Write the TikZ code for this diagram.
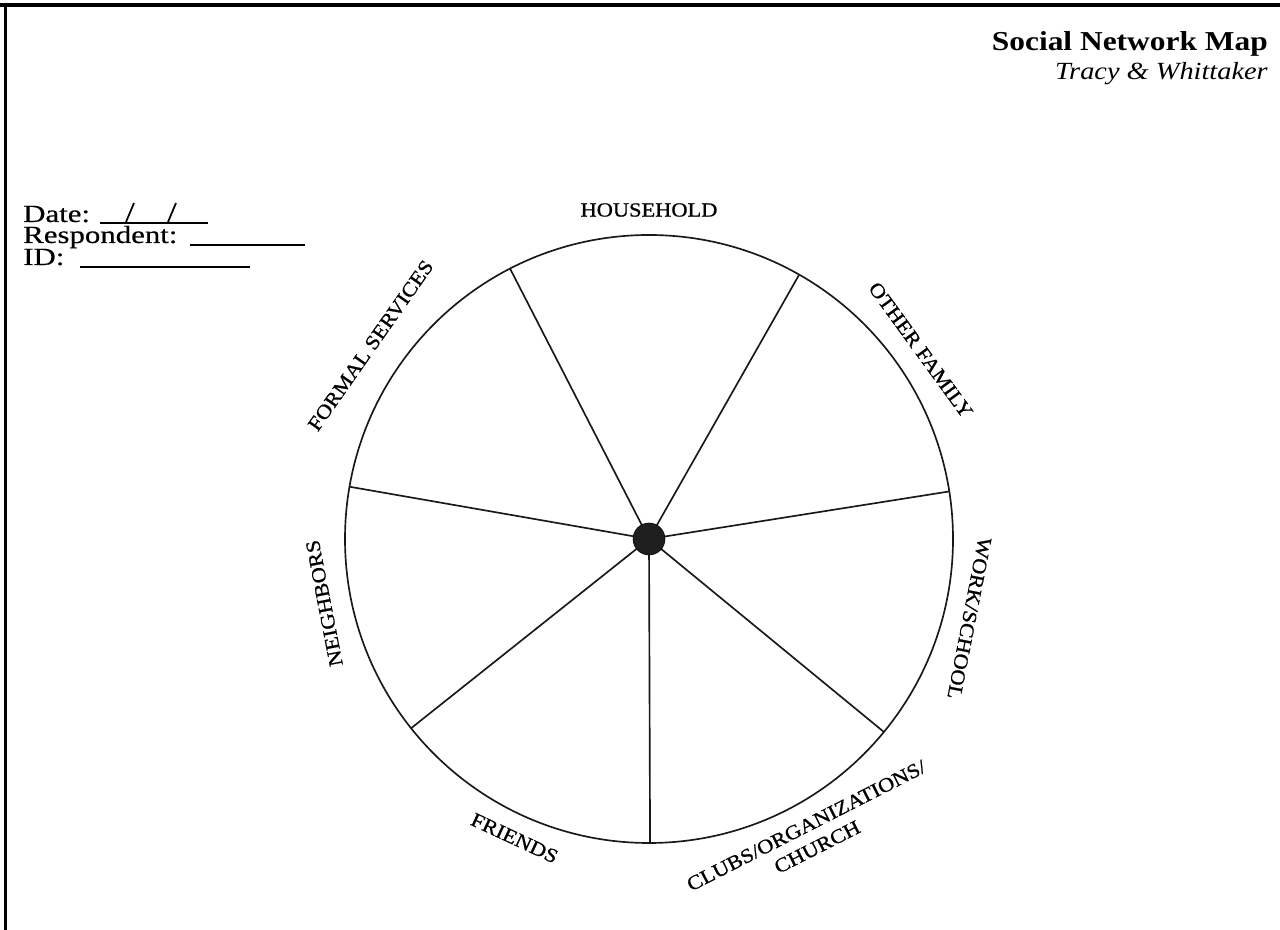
\documentclass[tikz,border=0pt]{standalone}
\usepackage{fontspec}
\setmainfont{Liberation Serif}[FakeStretch=1.15]
\newfontfamily\formfont{Liberation Serif}[FakeStretch=1.25,FakeBold=0.4]
\newfontfamily\labfont{Liberation Serif}[FakeStretch=1.12,FakeBold=0.9]
\begin{document}
\begin{tikzpicture}[x=0.75pt,y=0.75pt,
  frame/.style={line width=2.4pt,black},
  wheel/.style={line width=1.25pt,black!90},
  hubdot/.style={circle,fill=black!88,draw=black,inner sep=0pt,minimum size=24pt},
  lab/.style={font=\labfont\fontsize{15}{18}\selectfont,inner sep=0pt,align=center},
  form/.style={font=\formfont\fontsize{18.5}{20}\selectfont,inner sep=0pt,anchor=base west},
  blank/.style={line width=1.2pt,black}]
\useasboundingbox (0,0) rectangle (1280,930);
\fill[white] (0,0) rectangle (1280,930);
% frame
\draw[frame] (0,925) -- (1280,925);
\draw[frame] (5.5,0) -- (5.5,926.2);
% title
\node[font=\fontsize{20.5}{22}\selectfont\bfseries,anchor=base east,inner sep=0pt] (title) at (1268,879) {Social Network Map};
\node[font=\fontsize{18.5}{20}\selectfont\itshape,anchor=base east,inner sep=0pt] (authors) at (1268,850) {Tracy \& Whittaker};
% form fields
\node[form] (date) at (23,708) {Date:};
\coordinate (d1) at (100,707); \coordinate (d2) at (208,707);
\draw[blank] (d1) -- (d2);
\coordinate (sl1a) at (126,708); \coordinate (sl1b) at (134,727);
\coordinate (sl2a) at (168,708); \coordinate (sl2b) at (176,727);
\draw[line width=1.3pt] (sl1a) -- (sl1b);
\draw[line width=1.3pt] (sl2a) -- (sl2b);
\node[form] (resp) at (23,687) {Respondent:};
\coordinate (r1) at (190,685); \coordinate (r2) at (305,685);
\draw[blank] (r1) -- (r2);
\node[form] (id) at (23,665) {ID:};
\coordinate (i1) at (80,663); \coordinate (i2) at (250,663);
\draw[blank] (i1) -- (i2);
% wheel
\coordinate (C) at (649,391);
\draw[wheel] (C) circle[radius=304];
\foreach \a [count=\i] in {117.2,60.4,9.0,-39.4,-89.8,-141.5,170.1}{
  \coordinate (s\i) at ([shift={(\a:304)}]C);
  \draw[wheel] (C) -- (s\i);
}
\node[hubdot] (hub) at (C) {};
% sector labels
\node[lab] (household) at ([shift={(90:329)}]C) {HOUSEHOLD};
\node[lab,rotate=-54] (otherfam) at ([shift={(34.8:331)}]C) {OTHER FAMILY};
\node[lab,rotate=-101] (work) at ([shift={(-13.9:330)}]C) {WORK/SCHOOL};
\node[lab,rotate=27] (clubs) at ([shift={(-61.3:339)}]C) {CLUBS/ORGANIZATIONS/\\CHURCH};
\node[lab,rotate=-25] (friends) at ([shift={(-114.2:328)}]C) {FRIENDS};
\node[lab,rotate=101] (neigh) at ([shift={(191.2:331)}]C) {NEIGHBORS};
\node[lab,rotate=55] (formal) at ([shift={(145.2:339)}]C) {FORMAL SERVICES};
\end{tikzpicture}
\end{document}
